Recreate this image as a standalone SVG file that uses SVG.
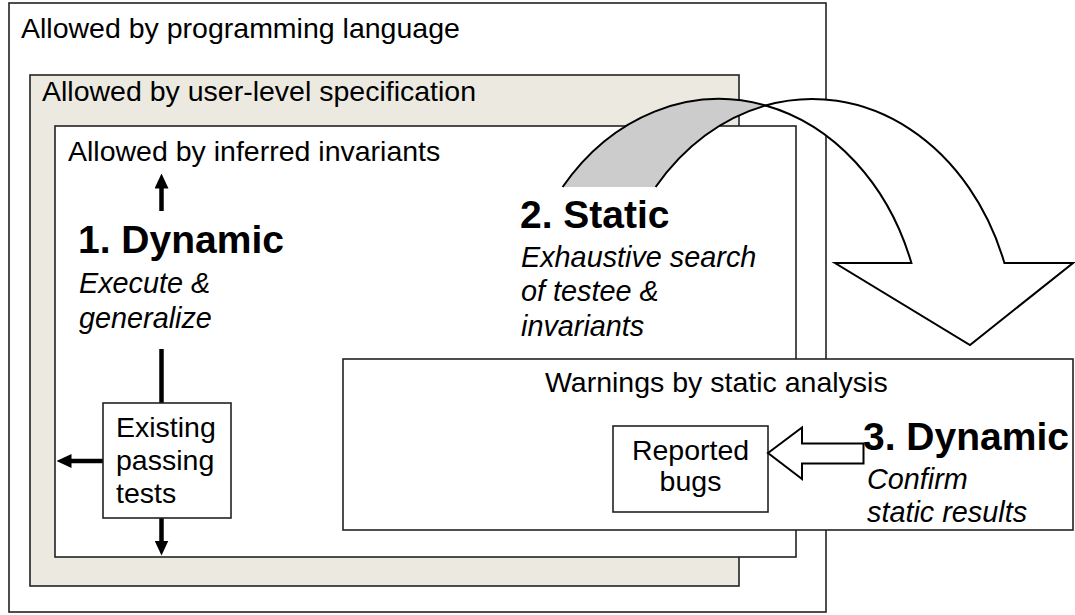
<svg xmlns="http://www.w3.org/2000/svg" width="1075" height="615" viewBox="0 0 1075 615">
<defs>
<style>
.box{fill:#fff;stroke:#222;stroke-width:1.6}
.beige{fill:#ECEAE0;stroke:#222;stroke-width:1.6}
.t{font-family:"Liberation Sans",Arial,sans-serif;font-size:28.5px;fill:#000}
.b{font-family:"Liberation Sans",Arial,sans-serif;font-size:39px;font-weight:bold;fill:#000}
.i{font-family:"Liberation Sans",Arial,sans-serif;font-size:28.8px;font-style:italic;fill:#000}
.con{stroke:#000;stroke-width:4.5;fill:none}
.bigarrow{stroke:#000;stroke-width:2;stroke-linejoin:miter}
</style>
<marker id="head" markerUnits="userSpaceOnUse" markerWidth="15" markerHeight="14" refX="0.5" refY="7" orient="auto">
<path d="M0,0 L15,7 L0,14 z" fill="#000"/>
</marker>
</defs>

<g id="language">
<rect class="box" x="9" y="3" width="817" height="609"/>
<text class="t" x="21" y="38">Allowed by programming language</text>
</g>

<g id="specification">
<rect class="beige" x="30" y="75" width="709" height="511"/>
<text class="t" x="42" y="101">Allowed by user-level specification</text>
</g>

<g id="invariants">
<rect class="box" x="55" y="126" width="741" height="431"/>
<text class="t" x="68" y="161">Allowed by inferred invariants</text>
</g>

<g id="dynamic1">
<text class="b" x="78" y="253">1. Dynamic</text>
<text class="i" x="79" y="293">Execute &amp;</text>
<text class="i" x="79" y="328">generalize</text>
</g>

<g id="static2">
<text class="b" x="520" y="228">2. Static</text>
<text class="i" x="521" y="267">Exhaustive search</text>
<text class="i" x="521" y="301">of testee &amp;</text>
<text class="i" x="521" y="336">invariants</text>
</g>

<g id="connectors">
<line class="con" x1="161.5" y1="211" x2="161.5" y2="188" marker-end="url(#head)"/>
<line class="con" x1="161.5" y1="349" x2="161.5" y2="403"/>
<line class="con" x1="161.5" y1="518" x2="161.5" y2="541" marker-end="url(#head)"/>
<line class="con" x1="103" y1="461" x2="71" y2="461" marker-end="url(#head)"/>
</g>

<g id="existing">
<rect class="box" x="103" y="403" width="128" height="115"/>
<text class="t" x="116" y="437">Existing</text>
<text class="t" x="116" y="470">passing</text>
<text class="t" x="116" y="503">tests</text>
</g>

<g id="warnings">
<rect class="box" x="343" y="359" width="730" height="171"/>
<text class="t" x="545" y="392">Warnings by static analysis</text>
</g>

<g id="bugs">
<rect class="box" x="613" y="426" width="155" height="86"/>
<text class="t" x="690.5" y="460" text-anchor="middle">Reported</text>
<text class="t" x="690.5" y="491" text-anchor="middle">bugs</text>
</g>

<g id="dynamic3">
<path class="bigarrow" d="M768,453 L802,427.5 L802,443.5 L863.5,443.5 L863.5,463.5 L802,463.5 L802,479 Z" fill="#fff" stroke-width="1.8"/>
<text class="b" x="863" y="450">3. Dynamic</text>
<text class="i" x="867" y="489">Confirm</text>
<text class="i" x="867" y="522">static results</text>
</g>

<g id="curved-arrow">
<path class="bigarrow" fill="#CCCCCC" d="M562.6,187 A204,246 0 0 1 765.5,105.5 A204,246 0 0 0 655.6,187"/>
<path class="bigarrow" fill="#fff" d="M765.5,105.5 A204,246 0 0 1 1004.4,263 L1073,263 L970,345 L835,263 L911.4,263 A204,246 0 0 0 765.5,105.5 Z"/>
</g>
</svg>
